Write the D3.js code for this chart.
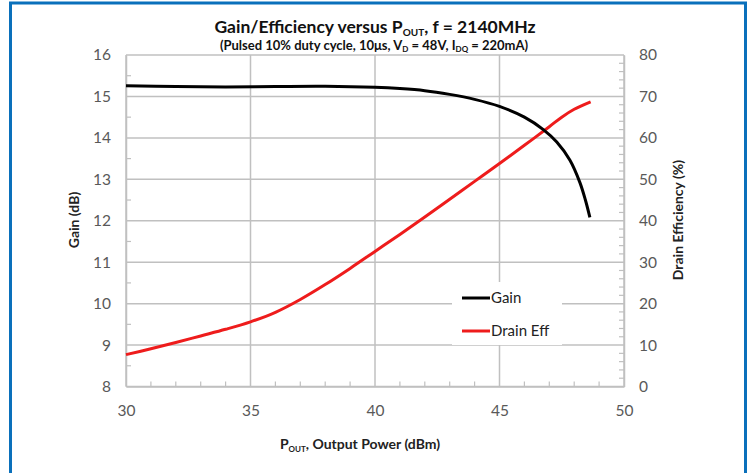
<!DOCTYPE html>
<html><head><meta charset="utf-8">
<script src="https://cdn.jsdelivr.net/npm/d3@7"></script>
<style>
html,body{margin:0;padding:0;background:#fff;}
svg{display:block;font-family:Lato,"Open Sans",sans-serif;}
</style></head>
<body><svg id="c" width="751" height="473"></svg>
<script>
// ---- data ----
const gainX = [30, 32, 34, 36, 38, 40, 41, 42, 43, 44, 45, 46, 46.76, 47.3, 47.83, 48.23, 48.45, 48.63];
const gainY = [15.26, 15.24, 15.23, 15.24, 15.245, 15.22, 15.19, 15.14, 15.05, 14.93, 14.76, 14.5, 14.2, 13.9, 13.46, 12.92, 12.5, 12.08];
const effX = [30, 31, 32, 33, 34, 35, 36, 37, 38, 39, 40, 41, 42, 43, 44, 45, 46, 47, 47.5, 48, 48.66];
const effY = [7.7, 9.1, 10.6, 12.2, 13.8, 15.6, 17.9, 21.0, 24.6, 28.5, 32.6, 36.7, 40.9, 45.2, 49.5, 53.8, 58.2, 62.7, 65.0, 66.9, 68.7];
const xTicks = [30, 35, 40, 45, 50];
const gainTicks = [8, 9, 10, 11, 12, 13, 14, 15, 16];
const effTicks = [0, 10, 20, 30, 40, 50, 60, 70, 80];
const seriesNames = ["Gain", "Drain Eff"];

const svg = d3.select("#c");
const L = 126, R = 624, T = 55, B = 386.5;
const x = d3.scaleLinear().domain([30, 50]).range([L, R]);
const yG = d3.scaleLinear().domain([8, 16]).range([B, T]);
const yE = d3.scaleLinear().domain([0, 80]).range([B, T]);
const grid = "#c0c0c0", tickCol = "#595959";

// blue frame
svg.append("rect").attr("x", 10.5).attr("y", 3).attr("width", 735).attr("height", 480)
  .attr("fill", "none").attr("stroke", "#0a70bb").attr("stroke-width", 3);

// gridlines
svg.append("g").selectAll("line").data(gainTicks).join("line")
  .attr("x1", L).attr("x2", R).attr("y1", d => yG(d)).attr("y2", d => yG(d))
  .attr("stroke", grid).attr("stroke-width", 1.5);
svg.append("g").selectAll("line").data(xTicks).join("line")
  .attr("x1", d => x(d)).attr("x2", d => x(d)).attr("y1", T).attr("y2", B)
  .attr("stroke", grid).attr("stroke-width", 1.5);

// minor ticks
const minorG = d3.range(8.5, 16, 1);
svg.append("g").selectAll("line").data(minorG).join("line")
  .attr("x1", L).attr("x2", L + 5).attr("y1", d => yG(d)).attr("y2", d => yG(d))
  .attr("stroke", grid).attr("stroke-width", 1.2);
const minorE = d3.range(2, 80, 2).filter(d => d % 10 !== 0);
svg.append("g").selectAll("line").data(minorE).join("line")
  .attr("x1", R - 5).attr("x2", R).attr("y1", d => yE(d)).attr("y2", d => yE(d))
  .attr("stroke", grid).attr("stroke-width", 1.2);
const minorX = d3.range(31, 50, 1).filter(d => d % 5 !== 0);
svg.append("g").selectAll("line").data(minorX).join("line")
  .attr("x1", d => x(d)).attr("x2", d => x(d)).attr("y1", B - 5).attr("y2", B)
  .attr("stroke", grid).attr("stroke-width", 1.2);

// axes via d3
const axL = svg.append("g").attr("transform", `translate(${L},0)`)
  .call(d3.axisLeft(yG).tickValues(gainTicks).tickSize(0).tickPadding(15));
const axR = svg.append("g").attr("transform", `translate(${R},0)`)
  .call(d3.axisRight(yE).tickValues(effTicks).tickSize(0).tickPadding(15));
const axB = svg.append("g").attr("transform", `translate(0,${B})`)
  .call(d3.axisBottom(x).tickValues(xTicks).tickSize(0).tickPadding(18));
[axL, axR, axB].forEach(a => {
  a.select(".domain").attr("stroke", grid).attr("stroke-width", 1.5);
  a.selectAll("text").attr("fill", tickCol).attr("font-size", 15.5).attr("font-family", "Lato,sans-serif");
});

// lines
const curve = d3.curveCatmullRom.alpha(0.5);
const lineG = d3.line().x(d => x(d[0])).y(d => yG(d[1])).curve(curve);
const lineE = d3.line().x(d => x(d[0])).y(d => yE(d[1])).curve(curve);
svg.append("path").datum(effX.map((v, i) => [v, effY[i]])).attr("d", lineE)
  .attr("fill", "none").attr("stroke", "#ee1c1c").attr("stroke-width", 3);
svg.append("path").datum(gainX.map((v, i) => [v, gainY[i]])).attr("d", lineG)
  .attr("fill", "none").attr("stroke", "#000").attr("stroke-width", 3);

// legend
const lg = svg.append("g");
lg.append("rect").attr("x", 452).attr("y", 282).attr("width", 110).attr("height", 63).attr("fill", "#fff");
const legCols = ["#000", "#ee1c1c"];
const legY = [298, 331];
seriesNames.forEach((n, i) => {
  lg.append("line").attr("x1", 462).attr("x2", 490).attr("y1", legY[i]).attr("y2", legY[i])
    .attr("stroke", legCols[i]).attr("stroke-width", 3);
  lg.append("text").attr("x", 491).attr("y", legY[i]).attr("dy", "0.35em")
    .attr("font-size", 15).attr("fill", "#222").text(n);
});

// titles
const t1 = svg.append("text").attr("x", 375).attr("y", 33).attr("text-anchor", "middle")
  .attr("font-size", 17.5).attr("font-weight", "bold").attr("fill", "#111");
t1.append("tspan").text("Gain/Efficiency versus P");
t1.append("tspan").attr("font-size", 10).attr("dy", 3).text("OUT");
t1.append("tspan").attr("dy", -3).text(", f = 2140MHz");

const t2 = svg.append("text").attr("x", 374).attr("y", 50).attr("text-anchor", "middle")
  .attr("font-size", 13).attr("font-weight", "bold").attr("fill", "#111");
t2.append("tspan").text("(Pulsed 10% duty cycle, 10μs, V");
t2.append("tspan").attr("font-size", 8).attr("dy", 2).text("D");
t2.append("tspan").attr("dy", -2).text(" = 48V, I");
t2.append("tspan").attr("font-size", 8).attr("dy", 2).text("DQ");
t2.append("tspan").attr("dy", -2).text(" = 220mA)");

// axis titles
svg.append("text").attr("transform", "translate(79,220) rotate(-90)").attr("text-anchor", "middle")
  .attr("font-size", 14).attr("font-weight", "bold").attr("fill", "#222").text("Gain (dB)");
svg.append("text").attr("transform", "translate(683,220) rotate(-90)").attr("text-anchor", "middle")
  .attr("font-size", 14).attr("font-weight", "bold").attr("fill", "#222").text("Drain Efficiency (%)");
const xt = svg.append("text").attr("x", 360).attr("y", 449).attr("text-anchor", "middle")
  .attr("font-size", 14).attr("font-weight", "bold").attr("fill", "#222");
xt.append("tspan").text("P");
xt.append("tspan").attr("font-size", 8).attr("dy", 3).text("OUT");
xt.append("tspan").attr("dy", -3).text(", Output Power (dBm)");
</script></body></html>
